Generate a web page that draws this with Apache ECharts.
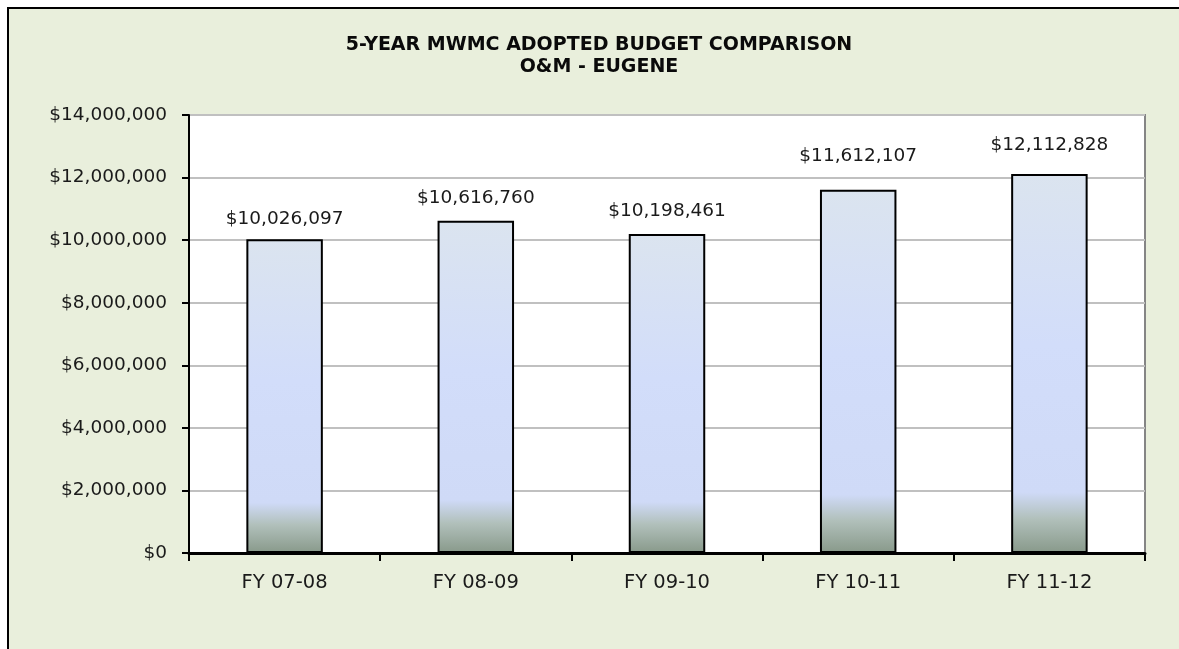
<!DOCTYPE html>
<html>
<head>
<meta charset="utf-8">
<script src="https://cdn.jsdelivr.net/npm/echarts@6/dist/echarts.min.js"></script>
<style>
html,body{margin:0;padding:0;background:#e9efdc;overflow:hidden;}
#c{position:absolute;left:0;top:0;width:1179px;height:649px;}
</style>
</head>
<body>
<div id="c"></div>
<script>
const titleLines = ['5-YEAR MWMC ADOPTED BUDGET COMPARISON', 'O&M - EUGENE'];
const categories = ['FY 07-08', 'FY 08-09', 'FY 09-10', 'FY 10-11', 'FY 11-12'];
const budgets = [10026097, 10616760, 10198461, 11612107, 12112828];
const yMin = 0;
const yMax = 14000000;
const yStep = 2000000;
const labelGaps = [11, 13, 13, 24, 19];

const fmt = v => '$' + Number(v).toLocaleString('en-US');
const FONT = 'DejaVu Sans';

const chart = echarts.init(document.getElementById('c'), null, {renderer: 'canvas'});
chart.setOption({
  animation: false,
  backgroundColor: '#e9efdc',
  graphic: [
    {type: 'rect', silent: true, z: -1, shape: {x: 0, y: 0, width: 7, height: 649}, style: {fill: '#ffffff'}},
    {type: 'rect', silent: true, z: -1, shape: {x: 0, y: 0, width: 1179, height: 7}, style: {fill: '#ffffff'}},
    {type: 'line', silent: true, z: -1, shape: {x1: 8, y1: 7, x2: 8, y2: 649}, style: {stroke: '#000', lineWidth: 2}},
    {type: 'line', silent: true, z: -1, shape: {x1: 7, y1: 8, x2: 1179, y2: 8}, style: {stroke: '#000', lineWidth: 2}}
  ],
  title: {
    text: titleLines.join('\n'),
    left: 599, top: 34, padding: 0, textAlign: 'center',
    textStyle: {fontFamily: FONT, fontSize: 19, fontWeight: 'bold', color: '#0a0a0a', lineHeight: 22}
  },
  grid: {
    left: 189, top: 115, right: 34, bottom: 96,
    show: true, backgroundColor: '#ffffff', borderColor: '#858585', borderWidth: 2
  },
  xAxis: {
    type: 'category',
    data: categories,
    axisLine: {lineStyle: {color: '#000', width: 3}},
    axisTick: {show: true, alignWithLabel: false, length: 8, lineStyle: {color: '#000', width: 2}},
    axisLabel: {fontFamily: FONT, fontSize: 19.5, color: '#1a1a1a', margin: 20}
  },
  yAxis: {
    type: 'value', min: yMin, max: yMax, interval: yStep,
    axisLine: {show: true, lineStyle: {color: '#000', width: 2}},
    axisTick: {show: true, length: 7, lineStyle: {color: '#000', width: 2}},
    axisLabel: {fontFamily: FONT, fontSize: 18.5, color: '#1a1a1a', margin: 22, formatter: fmt},
    splitLine: {lineStyle: {color: '#c0c0c0', width: 2}}
  },
  series: [{
    type: 'bar',
    barWidth: '40%',
    data: budgets.map((v, i) => ({value: v, label: {distance: labelGaps[i]}})),
    itemStyle: {
      borderColor: '#000', borderWidth: 2,
      color: new echarts.graphic.LinearGradient(0, 0, 0, 1, [
        {offset: 0, color: '#dbe4ef'},
        {offset: 0.45, color: '#d2ddfa'},
        {offset: 0.84, color: '#cfdaf7'},
        {offset: 0.91, color: '#b1c0bb'},
        {offset: 1, color: '#88998a'}
      ])
    },
    label: {
      show: true, position: 'top',
      fontFamily: FONT, fontSize: 18.5, color: '#1a1a1a',
      formatter: p => fmt(p.value)
    }
  }]
});
</script>
</body>
</html>
